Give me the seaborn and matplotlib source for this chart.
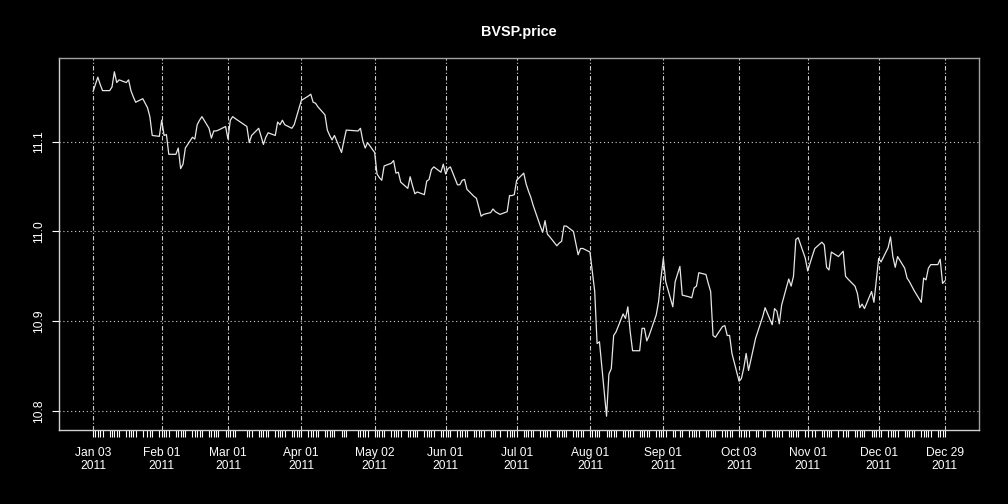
import numpy as np
import pandas as pd
import matplotlib
matplotlib.use("Agg")
import matplotlib.pyplot as plt
import matplotlib.dates as mdates
import seaborn as sns

# ---- data (log price of BVSP) ----
holidays = ["2011-01-25", "2011-03-07", "2011-03-08", "2011-04-21", "2011-04-22",
            "2011-06-23", "2011-09-07", "2011-10-12", "2011-11-02", "2011-11-15"]

jan = [11.156, 11.164, 11.172, 11.164, 11.157, 11.157, 11.161, 11.178, 11.166, 11.169,
       11.166, 11.169, 11.157, 11.150, 11.144, 11.148, 11.138, 11.128, 11.107, 11.106]
feb = [11.124, 11.107, 11.108, 11.086, 11.086, 11.093, 11.070, 11.075, 11.093, 11.105,
       11.103, 11.119, 11.124, 11.128, 11.115, 11.104, 11.112, 11.112, 11.113, 11.117]
mar = [11.103, 11.124, 11.128, 11.126, 11.117, 11.099, 11.107, 11.115, 11.106, 11.097,
       11.105, 11.110, 11.107, 11.122, 11.119, 11.124, 11.119, 11.115, 11.119, 11.128, 11.137]
apr = [11.146, 11.151, 11.153, 11.144, 11.143, 11.139, 11.130, 11.113, 11.107, 11.102,
       11.107, 11.088, 11.101, 11.113, 11.112, 11.115, 11.101, 11.093, 11.099]
may = [11.088, 11.064, 11.060, 11.057, 11.073, 11.076, 11.079, 11.065, 11.066, 11.055,
       11.048, 11.061, 11.051, 11.042, 11.044, 11.041, 11.056, 11.058, 11.069, 11.072,
       11.066, 11.075]
jun = [11.064, 11.070, 11.072, 11.052, 11.052, 11.057, 11.058, 11.047, 11.039, 11.037,
       11.027, 11.017, 11.019, 11.021, 11.025, 11.022, 11.019, 11.022, 11.040, 11.040, 11.041]
jul = [11.057, 11.065, 11.053, 11.045, 11.038, 11.029, 11.006, 10.999, 11.012, 10.997,
       10.994, 10.984, 10.987, 10.989, 11.006, 11.006, 11.000, 10.987, 10.974, 10.981, 10.981]
aug = [10.977, 10.955, 10.933, 10.875, 10.877, 10.794, 10.841, 10.847, 10.884, 10.888,
       10.908, 10.903, 10.916, 10.888, 10.867, 10.867, 10.892, 10.892, 10.878, 10.884,
       10.907, 10.922, 10.948]
sep = [10.970, 10.944, 10.916, 10.944, 10.961, 10.929, 10.927, 10.926, 10.937, 10.939,
       10.954, 10.952, 10.942, 10.933, 10.884, 10.882, 10.894, 10.895, 10.884, 10.884, 10.864]
oct_ = [10.833, 10.836, 10.848, 10.864, 10.845, 10.881, 10.889, 10.905, 10.915, 10.896,
        10.914, 10.911, 10.897, 10.918, 10.947, 10.939, 10.950, 10.991, 10.993, 10.970]
nov = [10.956, 10.973, 10.981, 10.988, 10.985, 10.960, 10.957, 10.977, 10.972, 10.978,
       10.950, 10.947, 10.939, 10.931, 10.915, 10.919, 10.914, 10.933, 10.921, 10.946]
dec = [10.970, 10.966, 10.982, 10.994, 10.972, 10.960, 10.972, 10.959, 10.948, 10.944,
       10.939, 10.934, 10.921, 10.948, 10.946, 10.959, 10.963, 10.963, 10.969, 10.942, 10.945]

major_dates = ["2011-01-03", "2011-02-01", "2011-03-01", "2011-04-01", "2011-05-02",
               "2011-06-01", "2011-07-01", "2011-08-01", "2011-09-01", "2011-10-03",
               "2011-11-01", "2011-12-01", "2011-12-29"]
major_labels = ["Jan 03\n2011", "Feb 01\n2011", "Mar 01\n2011", "Apr 01\n2011",
                "May 02\n2011", "Jun 01\n2011", "Jul 01\n2011", "Aug 01\n2011",
                "Sep 01\n2011", "Oct 03\n2011", "Nov 01\n2011", "Dec 01\n2011",
                "Dec 29\n2011"]
y_ticks = [10.8, 10.9, 11.0, 11.1]
y_labels = ["10.8", "10.9", "11.0", "11.1"]

dates = pd.bdate_range("2011-01-03", "2011-12-29")
dates = dates[~dates.isin(pd.to_datetime(holidays))]
values = jan + feb + mar + apr + may + jun + jul + aug + sep + oct_ + nov + dec
assert len(dates) == len(values), (len(dates), len(values))
df = pd.DataFrame({"date": dates, "price": values})

# ---- style ----
sns.set_theme(style="dark", rc={
    "figure.facecolor": "black", "axes.facecolor": "black",
    "savefig.facecolor": "black", "text.color": "white",
    "xtick.color": "white", "ytick.color": "white",
    "axes.labelcolor": "white",
})
plt.rcParams["font.family"] = ["Liberation Sans", "DejaVu Sans"]

fig = plt.figure(figsize=(10.08, 5.04), dpi=100)
ax = fig.add_axes([59 / 1008, 74 / 504, 920 / 1008, 372 / 504])

sns.lineplot(data=df, x="date", y="price", ax=ax, color="#e6e6e6",
             linewidth=0.9, estimator=None)

d0 = mdates.date2num(dates[0])
d1 = mdates.date2num(dates[-1])
span = d1 - d0
ax.set_xlim(d0 - 0.04 * span, d1 + 0.04 * span)
vmin, vmax = min(values), max(values)
vr = vmax - vmin
ax.set_ylim(vmin - 0.04 * vr, vmax + 0.04 * vr)

major_nums = mdates.date2num(pd.to_datetime(major_dates))
ax.set_xticks(major_nums)
ax.set_xticklabels(major_labels, fontsize=8.64, color="white", linespacing=1.15)
ax.set_xticks(mdates.date2num(dates), minor=True)
ax.tick_params(axis="x", which="both", length=5.2, width=0.8, color="white",
               direction="out", pad=7, bottom=True)
ax.set_yticks(y_ticks)
ax.set_yticklabels(y_labels, fontsize=8.64, color="white", rotation=90, va="center")
ax.tick_params(axis="y", length=5.2, width=0.8, color="white", direction="out",
               pad=5, left=True)

ax.xaxis.grid(True, which="major", color="#cfcfcf", linestyle=(0, (4, 2, 1, 2)),
              linewidth=0.8)
ax.yaxis.grid(True, which="major", color="#cfcfcf", linestyle=(0, (1, 2.5)),
              linewidth=0.8)
ax.set_axisbelow(True)

for side in ["top", "right", "bottom", "left"]:
    ax.spines[side].set_visible(True)
    ax.spines[side].set_color("#a0a0a0")
    ax.spines[side].set_linewidth(1.0)
ax.spines["left"].set_color("#d0d0d0")
ax.spines["bottom"].set_color("#d0d0d0")

ax.set_xlabel("")
ax.set_ylabel("")
ax.set_title("BVSP.price", fontsize=10.4, fontweight="bold", color="white", pad=16)

fig.savefig("out.png", dpi=100, facecolor="black")
